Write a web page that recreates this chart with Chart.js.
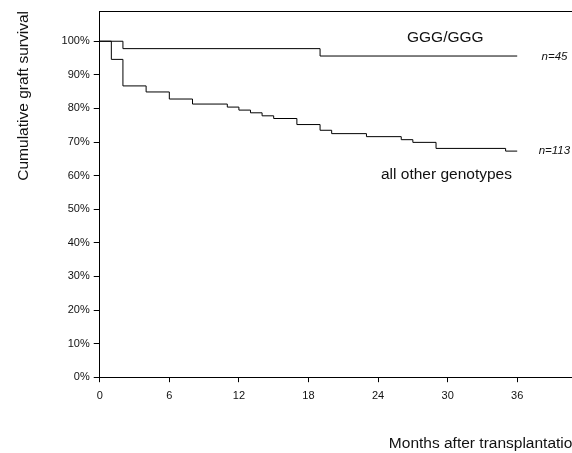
<!DOCTYPE html>
<html>
<head>
<meta charset="utf-8">
<script src="https://cdn.jsdelivr.net/npm/chart.js@4"></script>
<style>
  html, body { margin: 0; padding: 0; background: #fff; overflow: hidden; }
  #wrap { width: 572px; height: 453px; overflow: hidden; }
</style>
</head>
<body>
<div id="wrap"><canvas id="km" width="581" height="453"></canvas></div>
<script>
// Kaplan-Meier steps (months, % surviving)
const gggMonths = [0, 2, 19, 36];
const gggSurvival = [100, 97.8, 95.6, 95.6];

const otherMonths = [0, 1, 2, 4, 6, 8, 11, 12, 13, 14, 15, 17, 19, 20, 23, 26, 27, 29, 35, 36];
const otherSurvival = [100, 94.6, 86.7, 84.9, 82.8, 81.3, 80.4, 79.5, 78.7, 77.8, 77.0, 75.2, 73.5, 72.5, 71.6, 70.7, 69.9, 68.1, 67.3, 67.3];

const monthTicks = [0, 6, 12, 18, 24, 30, 36];
const percentTicks = [0, 10, 20, 30, 40, 50, 60, 70, 80, 90, 100];

const FONT = "'Liberation Sans', Arial, sans-serif";
const INK = '#000';

const toPoints = (xs, ys) => xs.map((x, i) => ({ x, y: ys[i] }));

// group labels and n= counts next to the curves
const curveLabels = {
    id: 'curveLabels',
    afterDatasetsDraw(chart) {
        const { ctx, scales: { x, y } } = chart;
        const lastGgg = gggSurvival[gggSurvival.length - 1];
        const lastOther = otherSurvival[otherSurvival.length - 1];
        ctx.save();
        ctx.fillStyle = '#111';
        ctx.textBaseline = 'middle';

        ctx.font = `15.5px ${FONT}`;
        ctx.textAlign = 'center';
        ctx.fillText('GGG/GGG', x.getPixelForValue(29.8), y.getPixelForValue(101));
        ctx.fillText('all other genotypes', x.getPixelForValue(29.9), y.getPixelForValue(60.3));

        ctx.font = `italic 11.5px ${FONT}`;
        ctx.textAlign = 'left';
        ctx.fillText('n=45', x.getPixelForValue(38.1), y.getPixelForValue(lastGgg) + 1);
        ctx.fillText('n=113', x.getPixelForValue(37.85), y.getPixelForValue(lastOther));
        ctx.restore();
    },
};

new Chart(document.getElementById('km'), {
    type: 'line',
    data: {
        datasets: [
            {
                label: 'GGG/GGG',
                data: toPoints(gggMonths, gggSurvival),
                stepped: 'before',
                borderColor: INK,
                borderWidth: 1,
                pointRadius: 0,
                fill: false,
            },
            {
                label: 'all other genotypes',
                data: toPoints(otherMonths, otherSurvival),
                stepped: 'before',
                borderColor: INK,
                borderWidth: 1,
                pointRadius: 0,
                fill: false,
            },
        ],
    },
    options: {
        responsive: false,
        animation: false,
        layout: { padding: { top: 11, right: 0, bottom: 0, left: 0 } },
        plugins: {
            legend: { display: false },
            tooltip: { enabled: false },
        },
        scales: {
            x: {
                type: 'linear',
                position: 'bottom',
                min: 0,
                max: 41.5,
                afterBuildTicks: (s) => { s.ticks = monthTicks.map((v) => ({ value: v })); },
                grid: { drawOnChartArea: false, drawTicks: true, tickLength: 5, color: INK },
                border: { display: true, color: INK, width: 1 },
                ticks: { color: '#111', padding: 7, font: { family: FONT, size: 11 } },
                title: {
                    display: true,
                    text: 'Months after transplantation',
                    align: 'end',
                    color: '#111',
                    font: { family: FONT, size: 15.5 },
                    padding: { top: 25, bottom: 0 },
                },
            },
            xTop: {
                type: 'linear',
                position: 'top',
                grid: { display: false, drawTicks: false },
                ticks: { display: false },
                border: { display: true, color: INK, width: 1 },
            },
            y: {
                min: 0,
                max: 109,
                afterBuildTicks: (s) => { s.ticks = percentTicks.map((v) => ({ value: v })); },
                grid: { drawOnChartArea: false, drawTicks: true, tickLength: 6, color: INK },
                border: { display: true, color: INK, width: 1 },
                ticks: {
                    color: '#111',
                    padding: 4,
                    font: { family: FONT, size: 11 },
                    callback: (v) => v + '%',
                },
                title: {
                    display: true,
                    text: 'Cumulative graft survival',
                    align: 'end',
                    color: '#111',
                    font: { family: FONT, size: 15.5 },
                    padding: { top: 14, bottom: 25 },
                },
            },
        },
    },
    plugins: [curveLabels],
});
</script>
</body>
</html>
